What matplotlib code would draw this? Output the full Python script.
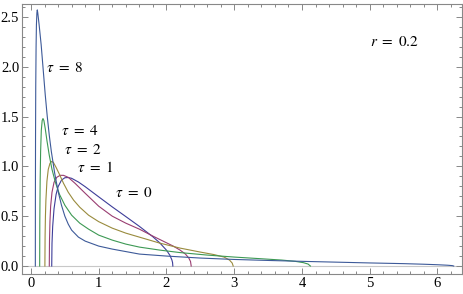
import numpy as np
import matplotlib
matplotlib.use("Agg")
import matplotlib.pyplot as plt
from matplotlib.ticker import MultipleLocator

plt.rcParams['font.family'] = ['Liberation Serif', 'DejaVu Serif']
plt.rcParams['mathtext.fontset'] = 'stix'

# curves, one per tau
x_t0 = [0.306, 0.31, 0.32, 0.34, 0.37, 0.4, 0.45, 0.5, 0.55, 0.6, 0.7, 0.8, 1.0, 1.2, 1.4,
        1.6, 1.8, 1.9, 2.0, 2.05, 2.08, 2.09, 2.094]
y_t0 = [0.0, 0.227, 0.397, 0.575, 0.717, 0.796, 0.862, 0.886, 0.888, 0.88, 0.843, 0.796, 0.694, 0.593, 0.496,
        0.398, 0.293, 0.233, 0.159, 0.108, 0.061, 0.034, 0.0]

x_t1 = [0.27, 0.273, 0.28, 0.29, 0.31, 0.34, 0.38, 0.43, 0.48, 0.55, 0.65, 0.8, 1.0, 1.2, 1.4, 1.6,
        1.8, 1.95, 2.1, 2.2, 2.28, 2.33, 2.355, 2.365]
y_t1 = [0.0, 0.25, 0.45, 0.6, 0.74, 0.84, 0.89, 0.91, 0.91, 0.89, 0.83, 0.73, 0.6, 0.5, 0.43, 0.37,
        0.3, 0.25, 0.2, 0.16, 0.12, 0.08, 0.045, 0.0]

x_t2 = [0.205, 0.208, 0.213, 0.22, 0.235, 0.255, 0.28, 0.305, 0.33, 0.37, 0.42, 0.48, 0.55, 0.63,
        0.72, 0.85, 1.0, 1.2, 1.4, 1.6, 1.9, 2.2, 2.5, 2.7, 2.85, 2.93, 2.97, 2.985]
y_t2 = [0.0, 0.3, 0.5, 0.66, 0.85, 0.97, 1.03, 1.05, 1.04, 0.99, 0.92, 0.83, 0.74, 0.66,
        0.59, 0.51, 0.445, 0.38, 0.33, 0.29, 0.23, 0.18, 0.14, 0.115, 0.09, 0.06, 0.03, 0.0]

x_t4 = [0.128, 0.13, 0.135, 0.142, 0.152, 0.165, 0.177, 0.19, 0.21, 0.235, 0.27, 0.31, 0.36, 0.42,
        0.5, 0.6, 0.72, 0.85, 1.0, 1.2, 1.4, 1.6, 1.9, 2.2, 2.6, 3.0, 3.4, 3.7, 3.9, 4.02, 4.09, 4.125]
y_t4 = [0.0, 0.45, 0.85, 1.15, 1.36, 1.46, 1.48, 1.46, 1.38, 1.26, 1.11, 0.97, 0.84, 0.72,
        0.61, 0.51, 0.43, 0.37, 0.31, 0.26, 0.22, 0.19, 0.16, 0.135, 0.11, 0.09, 0.073, 0.06, 0.047, 0.034, 0.02, 0.0]

x_t8 = [0.064, 0.065, 0.067, 0.07, 0.075, 0.08, 0.087, 0.093, 0.1, 0.11, 0.12, 0.15, 0.18, 0.21,
        0.24, 0.27, 0.3, 0.35, 0.4, 0.45, 0.5, 0.55, 0.6, 0.7, 0.8, 1.0, 1.2, 1.6, 2.0, 2.5, 3.0,
        3.5, 4.0, 4.5, 5.0, 5.5, 5.8, 6.0, 6.15, 6.22, 6.24]
y_t8 = [0.0, 0.7, 1.3, 1.8, 2.2, 2.42, 2.54, 2.57, 2.54, 2.48, 2.42, 2.22, 1.97, 1.72,
        1.5, 1.31, 1.15, 0.93, 0.75, 0.61, 0.5, 0.42, 0.36, 0.29, 0.25, 0.2, 0.17, 0.12, 0.1, 0.08, 0.066,
        0.056, 0.047, 0.039, 0.031, 0.024, 0.018, 0.013, 0.008, 0.004, 0.0]

taus = ['0', '1', '2', '4', '8']
colors = ['#3d3d99', '#993d71', '#998b3d', '#3d9954', '#3d5a99']
label_x = [1.52, 0.945, 0.77, 0.72, 0.5]
label_y = [0.73, 0.99, 1.16, 1.35, 1.99]

fig = plt.figure(figsize=(4.63, 2.94), dpi=100)
ax = fig.add_axes([0.0475, 0.067, 0.9495, 0.919])

curves = [(x_t0, y_t0), (x_t1, y_t1), (x_t2, y_t2), (x_t4, y_t4), (x_t8, y_t8)]
for (xs, ys), c in zip(curves, colors):
    ax.plot(xs, ys, color=c, lw=0.8)

for t, lx, ly in zip(taus, label_x, label_y):
    ax.text(lx, ly, r'$\tau\ =\ %s$' % t, fontsize=11, ha='center', va='center')
ax.text(5.37, 2.25, r'$r\ =\ 0.2$', fontsize=11, ha='center', va='center')

ax.axhline(0, color='#c8c8c8', lw=0.8, zorder=0)

ax.set_xlim(-0.133, 6.357)
ax.set_ylim(-0.083, 2.628)
ax.xaxis.set_major_locator(MultipleLocator(1))
ax.xaxis.set_minor_locator(MultipleLocator(0.2))
ax.yaxis.set_major_locator(MultipleLocator(0.5))
ax.yaxis.set_minor_locator(MultipleLocator(0.1))
ax.yaxis.set_major_formatter(plt.FormatStrFormatter('%.1f'))
ax.tick_params(which='both', direction='in', top=True, right=True, color='#888888', width=0.7, labelsize=10.5, pad=2)
ax.tick_params(which='major', length=4)
ax.tick_params(which='minor', length=2)
for s in ax.spines.values():
    s.set_color('#888888')
    s.set_linewidth(0.8)

fig.savefig('out.png', dpi=100)
